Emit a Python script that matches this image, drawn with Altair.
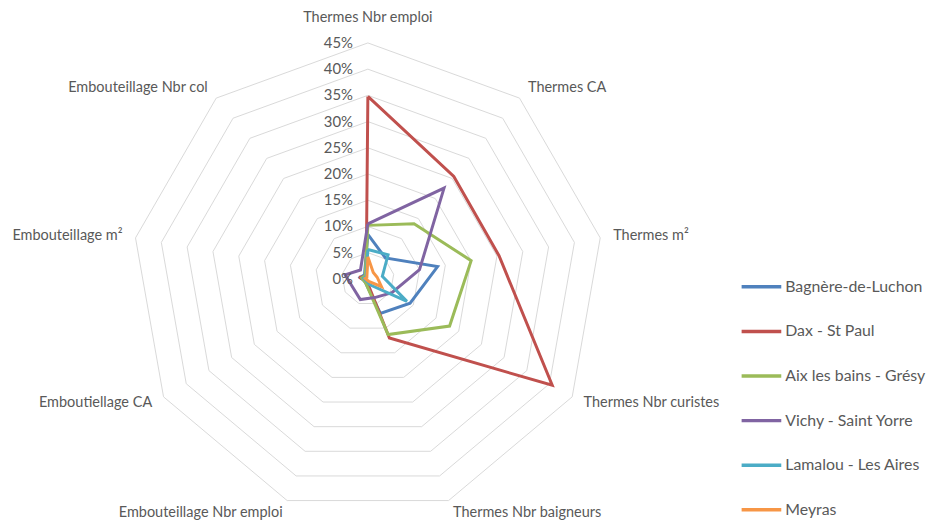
import altair as alt
import pandas as pd

# ---------------- data ----------------
categories = [
    "Thermes Nbr emploi", "Thermes CA", "Thermes m²", "Thermes Nbr curistes",
    "Thermes Nbr baigneurs", "Embouteillage Nbr emploi", "Emboutiellage CA",
    "Embouteillage m²", "Embouteillage Nbr col",
]
series_names = [
    "Bagnère-de-Luchon", "Dax - St Paul", "Aix les bains - Grésy",
    "Vichy - Saint Yorre", "Lamalou - Les Aires", "Meyras",
]
bagnere = [8.5, 5.2, 13.5, 9.3, 7.0, 1.0, 0.8, 1.5, 1.0]
dax = [34.8, 25.5, 25.4, 40.6, 12.0, 0.5, 0.5, 1.7, 0.5]
aix = [10.2, 13.7, 20.0, 18.0, 11.3, 1.0, 0.8, 1.2, 0.8]
vichy = [10.5, 22.6, 10.0, 5.3, 3.8, 4.2, 3.3, 4.4, 2.2]
lamalou = [5.6, 6.0, 2.8, 8.6, 1.2, 0.5, 0.5, 0.8, 0.5]
meyras = [4.2, 1.6, 1.8, 3.0, 0.5, 0.3, 0.3, 0.5, 0.3]
series_values = [bagnere, dax, aix, vichy, lamalou, meyras]
colors = ["#4F81BD", "#C0504D", "#9BBB59", "#8064A2", "#4BACC6", "#F79646"]

tick_levels = [0, 5, 10, 15, 20, 25, 30, 35, 40, 45]
tick_labels = ["0%", "5%", "10%", "15%", "20%", "25%", "30%", "35%", "40%", "45%"]

N = len(categories)

# ---------------- tables ----------------
rows = []
for name, vals in zip(series_names, series_values):
    for k in range(N + 1):
        i = k % N
        rows.append({"serie": name, "idx": i, "order": k, "value": vals[i]})
series_df = pd.DataFrame(rows)

grid_rows = []
for lvl in tick_levels[1:]:
    for k in range(N + 1):
        grid_rows.append({"level": lvl, "idx": k % N, "order": k, "value": lvl})
grid_df = pd.DataFrame(grid_rows)

ticks_df = pd.DataFrame({"level": tick_levels, "label": tick_labels})
cats_df = pd.DataFrame({"cat": categories, "idx": list(range(N))})

ANG = "datum.idx * 2 * PI / 9"
xs = alt.Scale(domain=[-45, 45], nice=False, zero=False)
ys = alt.Scale(domain=[-45.57, 51.24], nice=False, zero=False)
FONT = "Lato"
GREY = "#595959"

grid = (
    alt.Chart(grid_df)
    .transform_calculate(px=f"datum.value * sin({ANG})", py=f"datum.value * cos({ANG})")
    .mark_line(color="#D9D9D9", strokeWidth=1)
    .encode(
        x=alt.X("px:Q", scale=xs, axis=None),
        y=alt.Y("py:Q", scale=ys, axis=None),
        detail="level:N",
        order="order:Q",
    )
)

lines = (
    alt.Chart(series_df)
    .transform_calculate(px=f"datum.value * sin({ANG})", py=f"datum.value * cos({ANG})")
    .mark_line(strokeWidth=3)
    .encode(
        x=alt.X("px:Q", scale=xs, axis=None),
        y=alt.Y("py:Q", scale=ys, axis=None),
        color=alt.Color(
            "serie:N",
            scale=alt.Scale(domain=series_names, range=colors),
            legend=alt.Legend(
                title=None,
                orient="none",
                legendX=613,
                legendY=257,
                symbolType="stroke",
                symbolSize=1600,
                symbolStrokeWidth=3.5,
                rowPadding=15,
                labelOffset=2,
                labelFont=FONT,
                labelFontSize=16,
                labelColor=GREY,
                padding=0,
                labelLimit=300,
            ),
        ),
        order="order:Q",
    )
)

ticks = (
    alt.Chart(ticks_df)
    .transform_calculate(tx="0")
    .mark_text(align="right", baseline="middle", dx=-15, font=FONT, fontSize=15, color=GREY)
    .encode(
        x=alt.X("tx:Q", scale=xs, axis=None),
        y=alt.Y("level:Q", scale=ys, axis=None),
        text="label:N",
    )
)

cat_base = alt.Chart(cats_df).transform_calculate(
    lr="datum.idx == 0 ? 49.7 : 47.5"
).transform_calculate(
    lx=f"datum.lr * sin({ANG})", ly=f"datum.lr * cos({ANG})"
)

def cat_layer(cond, align):
    return (
        cat_base.transform_filter(cond)
        .mark_text(align=align, baseline="middle", font=FONT, fontSize=14.6, color=GREY)
        .encode(
            x=alt.X("lx:Q", scale=xs, axis=None),
            y=alt.Y("ly:Q", scale=ys, axis=None),
            text="cat:N",
        )
    )

cats_top = cat_layer("datum.idx == 0", "center")
cats_right = cat_layer("datum.idx >= 1 && datum.idx <= 4", "left")
cats_left = cat_layer("datum.idx >= 5", "right")

chart = (
    alt.layer(grid, lines, ticks, cats_top, cats_right, cats_left)
    .properties(
        width=476,
        height=512,
        padding={"left": 125, "top": 0, "right": 326, "bottom": 0},
        autosize=alt.AutoSizeParams(type="none"),
        background="white",
    )
    .configure_view(stroke=None)
)

chart.save("out.html", embed_options={"renderer": "svg", "actions": False})
